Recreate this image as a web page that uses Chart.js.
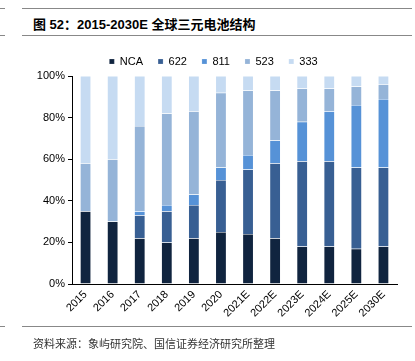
<!DOCTYPE html>
<html>
<head>
<meta charset="utf-8">
<script src="https://cdn.jsdelivr.net/npm/chart.js@4.4.0/dist/chart.umd.min.js"></script>
<style>
  body { margin: 0; background: #fff; }
  #wrap { position: relative; width: 415px; height: 361px; overflow: hidden; }
  #chartBox { position: absolute; left: 0; top: 0; width: 415px; height: 361px; }
  .line { position: absolute; height: 0; border-top: 1px solid #888; }
  #title { position: absolute; left: 33px; top: 14px; font: bold 13px "Liberation Sans", "Noto Sans CJK SC", sans-serif; color: #000; white-space: nowrap; }
  #source { position: absolute; left: 33px; top: 335px; font: 11px "Noto Sans CJK SC", sans-serif; color: #333; white-space: nowrap; }
</style>
</head>
<body>
<div id="wrap">
  <div class="line" style="left:0;top:8px;width:5px"></div>
  <div class="line" style="left:22px;top:8px;width:390px"></div>
  <div class="line" style="left:0;top:35px;width:5px"></div>
  <div class="line" style="left:22px;top:35px;width:390px"></div>
  <div id="title">图 52：2015-2030E 全球三元电池结构</div>
  <div id="chartBox"><canvas id="c"></canvas></div>
  <div class="line" style="left:0;top:326px;width:5px"></div>
  <div class="line" style="left:22px;top:326px;width:390px"></div>
  <div id="source">资料来源：象屿研究院、国信证券经济研究所整理</div>
</div>
<script>
// years on the x axis
const years = ["2015", "2016", "2017", "2018", "2019", "2020", "2021E", "2022E", "2023E", "2024E", "2025E", "2030E"];

// share of each chemistry, %
const nca  = [35, 30, 22, 20, 22, 25, 24, 22, 18, 18, 17, 18];
const s622 = [0, 0, 11, 15, 16, 25, 31, 36, 41, 41, 39, 38];
const s811 = [0, 0, 2, 3, 5, 6, 7, 11, 19, 24, 30, 33];
const s523 = [23, 30, 41, 44, 40, 36, 31, 24, 16, 11, 9, 7];
const s333 = [42, 40, 24, 18, 17, 8, 7, 7, 6, 6, 5, 4];

const yTicks = [0, 20, 40, 60, 80, 100];

const series = [
  { label: "NCA", data: nca, color: "#10243f" },
  { label: "622", data: s622, color: "#385f93" },
  { label: "811", data: s811, color: "#5692d7" },
  { label: "523", data: s523, color: "#95b4d8" },
  { label: "333", data: s333, color: "#c6dbf2" },
];

const tickFont = { family: "Liberation Sans, Arial, sans-serif", size: 11 };

new Chart(document.getElementById("c"), {
  type: "bar",
  data: {
    labels: years,
    datasets: series.map(s => ({
      label: s.label,
      data: s.data,
      backgroundColor: s.color,
      borderColor: "rgba(255,255,255,0.35)",
      borderWidth: 0.5,
      barPercentage: 0.4,
      categoryPercentage: 1,
    })),
  },
  options: {
    responsive: true,
    maintainAspectRatio: false,
    animation: false,
    layout: { padding: { left: 30, right: 18, top: 41, bottom: 0 } },
    plugins: {
      tooltip: { enabled: false },
      legend: {
        position: "top",
        maxHeight: 35,
        labels: {
          boxWidth: 5,
          boxHeight: 5,
          padding: 15,
          color: "#000",
          font: tickFont,
        },
      },
    },
    scales: {
      x: {
        stacked: true,
        grid: { display: false, drawTicks: false },
        border: { color: "#000", width: 1 },
        ticks: { color: "#000", font: tickFont, minRotation: 45, maxRotation: 45, padding: 4 },
        afterFit: (s) => { s.height = 77; },
      },
      y: {
        stacked: true,
        min: 0,
        max: 100,
        afterBuildTicks: (s) => { s.ticks = yTicks.map(v => ({ value: v })); },
        grid: { drawOnChartArea: false, drawTicks: true, tickLength: 4, color: "#000" },
        border: { color: "#000", width: 1 },
        ticks: { color: "#000", font: tickFont, padding: 3, callback: v => v + "%" },
        afterFit: (s) => { s.width = 42; },
      },
    },
  },
});
</script>
</body>
</html>
